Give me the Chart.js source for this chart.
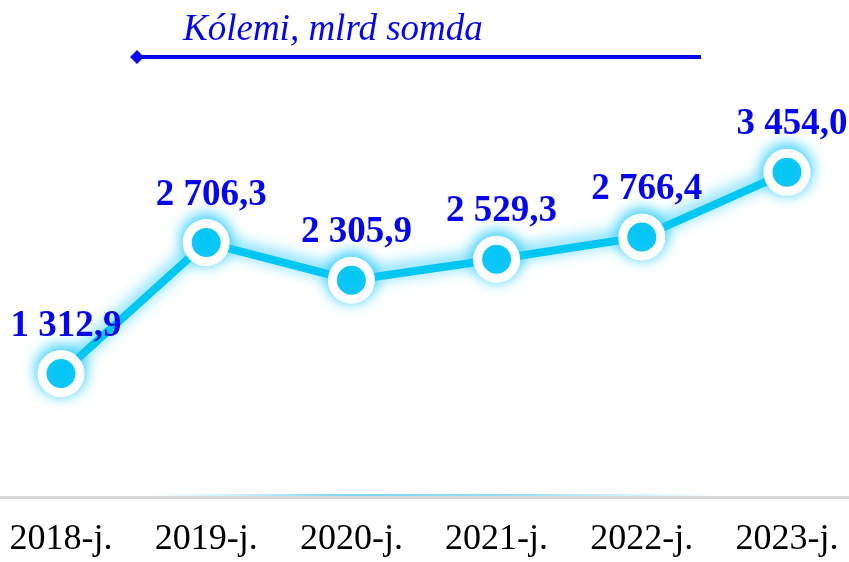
<!DOCTYPE html>
<html>
<head>
<meta charset="utf-8">
<script src="https://cdn.jsdelivr.net/npm/chart.js@4/dist/chart.umd.min.js"></script>
<style>
  html, body { margin: 0; padding: 0; background: #fff; }
  #wrap { width: 849px; height: 562px; position: relative; }
</style>
</head>
<body>
<div id="wrap"><canvas id="grafik"></canvas></div>
<script>
const yillar = ['2018-j.', '2019-j.', '2020-j.', '2021-j.', '2022-j.', '2023-j.'];
const kolemi = [1312.9, 2706.3, 2305.9, 2529.3, 2766.4, 3454.0];
const seriyaAti = 'Kólemi, mlrd somda';

const kok = '#00c6f2';
const kokJiyek = 'rgba(30, 200, 255, 1)';
const kokTekst = '#0505ee';

function sanFormat(v) {
  const [bas, boshek] = v.toFixed(1).split('.');
  return bas.replace(/\B(?=(\d{3})+(?!\d))/g, ' ') + ',' + boshek;
}

// jyltyr effekti: siziq hem noqatlar (joqarg'a qaray)
const jyltyr = {
  id: 'jyltyr',
  beforeDatasetDraw(chart) {
    const ctx = chart.ctx;
    ctx.save();
    ctx.shadowColor = kokJiyek;
    ctx.shadowBlur = 16;
    ctx.shadowOffsetY = -3;
  },
  afterDatasetDraw(chart) {
    chart.ctx.restore();
  }
};

// legenda, os siziq hem ma'nis jazywlary
const bezew = {
  id: 'bezew',
  beforeDatasetsDraw(chart) {
    const ctx = chart.ctx;
    const a = chart.chartArea;
    ctx.save();
    ctx.fillStyle = '#d9d9d9';
    ctx.fillRect(0, a.bottom - 1, chart.width, 3);
    const g = ctx.createLinearGradient(150, 0, 720, 0);
    g.addColorStop(0, 'rgba(120, 215, 245, 0)');
    g.addColorStop(0.35, 'rgba(110, 210, 245, 0.9)');
    g.addColorStop(0.65, 'rgba(110, 210, 245, 0.7)');
    g.addColorStop(1, 'rgba(120, 215, 245, 0)');
    ctx.fillStyle = g;
    ctx.fillRect(150, a.bottom - 3, 570, 2);

    // legenda
    ctx.strokeStyle = kokTekst;
    ctx.lineWidth = 4;
    ctx.beginPath();
    ctx.moveTo(138, 57);
    ctx.lineTo(701, 57);
    ctx.stroke();
    ctx.fillStyle = kokTekst;
    ctx.beginPath();
    ctx.moveTo(130, 57);
    ctx.lineTo(137, 50);
    ctx.lineTo(144, 57);
    ctx.lineTo(137, 64);
    ctx.closePath();
    ctx.fill();
    ctx.font = 'italic 37px "Liberation Serif"';
    ctx.textAlign = 'left';
    ctx.textBaseline = 'alphabetic';
    ctx.fillText(seriyaAti, 183, 40);
    ctx.restore();
  },
  afterDatasetsDraw(chart) {
    const ctx = chart.ctx;
    const meta = chart.getDatasetMeta(0);
    ctx.save();
    ctx.font = 'bold 37px "Liberation Serif"';
    ctx.fillStyle = kokTekst;
    ctx.textAlign = 'center';
    ctx.textBaseline = 'alphabetic';
    meta.data.forEach((p, i) => {
      ctx.fillText(sanFormat(kolemi[i]), p.x + 5, p.y - 38);
    });
    ctx.restore();
  }
};

const ctx = document.getElementById('grafik').getContext('2d');
new Chart(ctx, {
  type: 'line',
  data: {
    datasets: [{
      label: seriyaAti,
      data: kolemi.map((v, i) => ({ x: i, y: v })),
      borderColor: kok,
      borderWidth: 8,
      pointRadius: 19,
      pointBorderWidth: 9,
      pointBackgroundColor: kok,
      pointBorderColor: '#ffffff',
      tension: 0,
      clip: false
    }]
  },
  options: {
    responsive: true,
    maintainAspectRatio: false,
    animation: false,
    events: [],
    layout: { autoPadding: false, padding: { top: 121, left: 0, right: 0, bottom: 0 } },
    plugins: {
      legend: { display: false },
      tooltip: { enabled: false }
    },
    scales: {
      x: {
        type: 'linear',
        min: -0.42,
        max: 5.427,
        afterBuildTicks: s => { s.ticks = yillar.map((_, i) => ({ value: i })); },
        afterFit: s => {
          s.height = 65;
          s.paddingLeft = 0;
          s.paddingRight = 0;
        },
        grid: { display: false, drawTicks: false },
        border: { display: false },
        ticks: {
          padding: 21,
          color: '#000',
          font: { family: 'Liberation Serif', size: 36 },
          callback: v => yillar[v] || '',
          maxRotation: 0,
          autoSkip: false
        }
      },
      y: {
        display: false,
        min: 0,
        max: 4000
      }
    }
  },
  plugins: [bezew, jyltyr]
});
</script>
</body>
</html>
